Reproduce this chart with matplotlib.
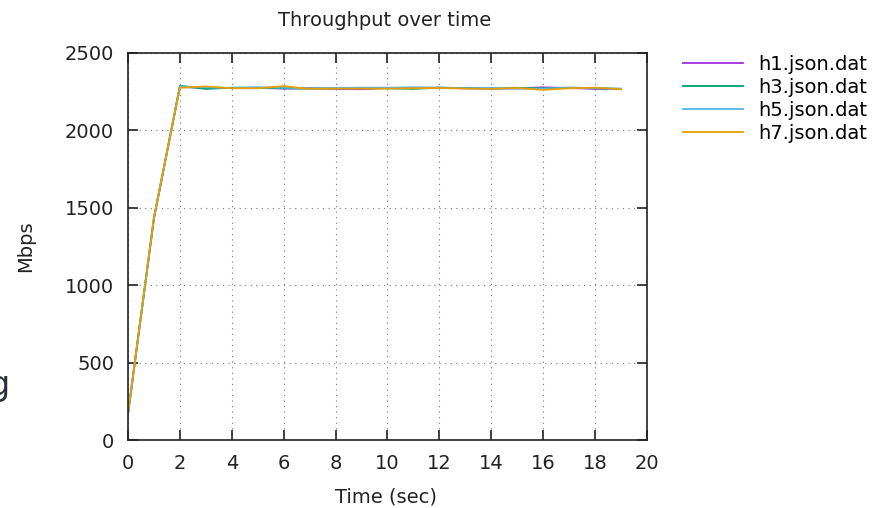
import matplotlib.pyplot as plt
import numpy as np

# throughput per host, one sample per second
time_sec = list(range(20))
h1 = [165, 1430, 2280, 2275, 2273, 2275, 2270, 2272, 2268, 2266, 2274, 2275, 2276, 2272, 2270, 2272, 2278, 2274, 2268, 2268]
h3 = [170, 1435, 2288, 2268, 2276, 2276, 2272, 2270, 2272, 2273, 2272, 2268, 2276, 2274, 2270, 2274, 2272, 2276, 2272, 2268]
h5 = [168, 1432, 2284, 2278, 2274, 2278, 2276, 2270, 2274, 2276, 2276, 2278, 2276, 2272, 2274, 2270, 2270, 2276, 2274, 2270]
h7 = [172, 1440, 2276, 2284, 2272, 2272, 2286, 2268, 2270, 2270, 2270, 2272, 2274, 2270, 2268, 2274, 2262, 2272, 2276, 2266]

series = [("h1.json.dat", h1, "#a030e0"),
          ("h3.json.dat", h3, "#009e73"),
          ("h5.json.dat", h5, "#56b4e9"),
          ("h7.json.dat", h7, "#e69f00")]

W, H = 878, 508
fig = plt.figure(figsize=(W / 100, H / 100), dpi=100)
ax = fig.add_axes([128/W, 1-440/H, (647-128)/W, (440-53)/H])

for name, vals, col in series:
    ax.plot(time_sec, vals, color=col, lw=1.3, label=name)

ax.set_xlim(0, 20)
ax.set_ylim(0, 2500)
ax.set_xticks(np.arange(0, 21, 2))
ax.set_yticks(np.arange(0, 2501, 500))
ax.grid(True, linestyle=(0, (1, 4)), color="#777777", lw=0.8)
ax.tick_params(direction="in", top=True, right=True, labelsize=14,
               length=7.5, width=1.2, color="#222222", labelcolor="#222222")
ax.tick_params(axis="x", pad=10)
ax.tick_params(axis="y", pad=10)
for s in ax.spines.values():
    s.set_linewidth(1.2)
    s.set_color("#222222")

fig.text(385/W, 1-20/H, "Throughput over time", fontsize=14, ha="center", va="center", color="#222222")
ax.set_xlabel("Time (sec)", fontsize=14, color="#222222")
ax.xaxis.set_label_coords(0.497, -0.122)
ax.set_ylabel("Mbps", fontsize=14, color="#222222")
ax.yaxis.set_label_coords(-0.178, 0.5)

ax.legend(loc="upper left", bbox_to_anchor=(1.036, 1.04), frameon=False,
          fontsize=14, handlelength=3.1, labelspacing=0.2, handletextpad=0.75)

# piece of slide text cut off at the left edge
fig.text(-0.013, 1-395/H, "g", fontsize=24, color="#2b303b")

fig.savefig("out.png", dpi=100)
